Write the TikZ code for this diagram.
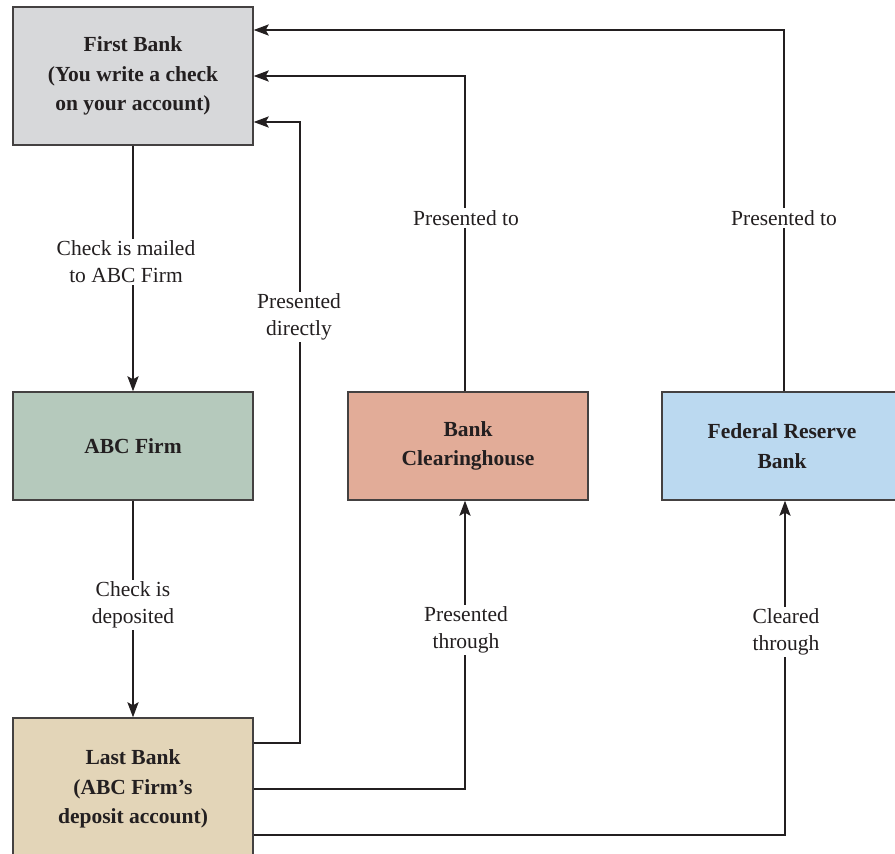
\documentclass[tikz,border=0pt]{standalone}
\usepackage{fontspec}
\setmainfont{Liberation Serif}
\usetikzlibrary{arrows.meta}
\definecolor{firstgray}{HTML}{D7D8DA}
\definecolor{abcgreen}{HTML}{B5C9BC}
\definecolor{clearred}{HTML}{E2AC98}
\definecolor{fedblue}{HTML}{BBD9F0}
\definecolor{lasttan}{HTML}{E3D5B8}
\definecolor{inkline}{HTML}{231F20}
\tikzset{
  bankbox/.style={draw=inkline!85,line width=1.3pt,minimum width=240pt,align=center,
    font=\fontsize{21.5}{29.5}\selectfont\bfseries,text=inkline},
  flow/.style={draw=inkline,line width=2.3pt,-{Stealth[length=15pt,width=11pt,inset=3pt]}},
  lbl/.style={fill=white,align=center,inner sep=2pt,font=\fontsize{21.5}{27}\selectfont,text=inkline}
}
\begin{document}
\begin{tikzpicture}[x=1pt,y=-1pt]
\useasboundingbox (0,0) rectangle (895,854);
\clip (0,0) rectangle (895,854);
% boxes
\node[bankbox,fill=firstgray,minimum height=138pt] (first) at (133,76) {First Bank\\(You write a check\\on your account)};
\node[bankbox,fill=abcgreen,minimum height=108pt] (abc) at (133,446) {ABC Firm};
\node[bankbox,fill=clearred,minimum height=108pt] (clear) at (468,446) {Bank\\Clearinghouse};
\node[bankbox,fill=fedblue,minimum height=108pt] (fed) at (782,446) {Federal Reserve\\Bank};
\node[bankbox,fill=lasttan,minimum height=142pt] (last) at (133,789) {Last Bank\\(ABC Firm's\\deposit account)};
% connectors
\draw[flow] (first) -- (abc);
\draw[flow] (abc) -- (last);
\draw[flow] ([yshift=46pt]last.east) -- ++(46,0) |- ([yshift=-46pt]first.east);
\draw[flow] (last.east) -| ([xshift=-3pt]clear.south);
\draw[flow] ([yshift=-46pt]last.east) -| ([xshift=3pt]fed.south);
\draw[flow] ([xshift=-3pt]clear.north) |- (first.east);
\draw[flow] ([xshift=2pt]fed.north) |- ([yshift=46pt]first.east);
% labels
\node[lbl] (mailed) at (126,262) {Check is mailed\\to ABC Firm};
\node[lbl] (deposited) at (133,605) {Check is\\deposited};
\node[lbl] (direct) at (299,317) {Presented\\directly};
\node[lbl] (toclear) at (466,218) {Presented to};
\node[lbl] (tofed) at (784,218) {Presented to};
\node[lbl] (through) at (466,630) {Presented\\through};
\node[lbl] (cleared) at (786,632) {Cleared\\through};
\end{tikzpicture}
\end{document}
